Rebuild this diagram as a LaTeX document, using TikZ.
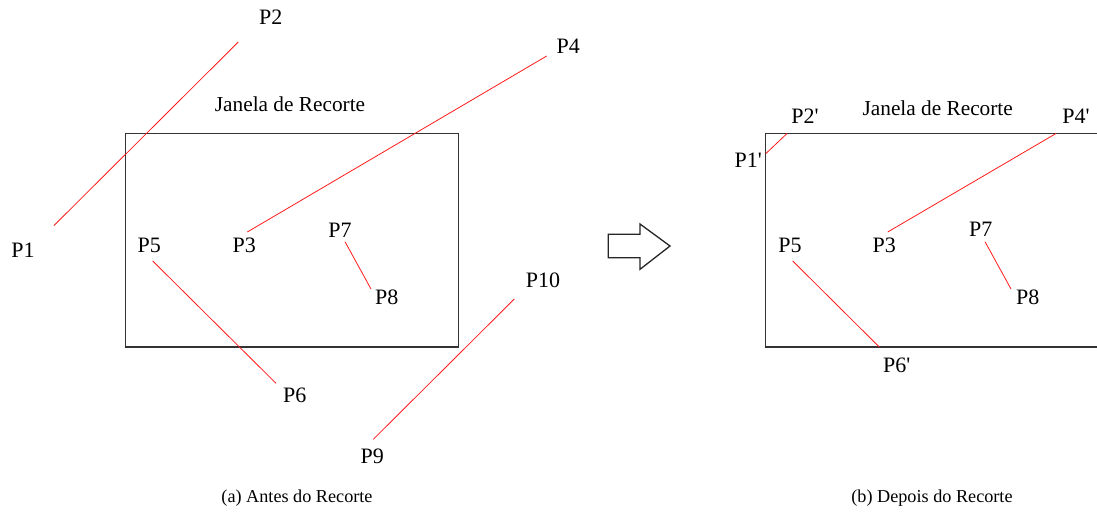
\documentclass[tikz,border=0pt]{standalone}
\usepackage{fontspec}
\setmainfont{Liberation Serif}
\newfontfamily\lblfont{Liberation Serif}
\begin{document}
\begin{tikzpicture}[x=1pt,y=-1pt,
  lbl/.style={inner sep=0pt,font=\lblfont\fontsize{22}{25}\selectfont},
  ttl/.style={inner sep=0pt,font=\lblfont\fontsize{21.3}{25}\selectfont},
  capt/.style={inner sep=0pt,font=\lblfont\fontsize{18.2}{22}\selectfont},
  win/.style={draw=black!80,line width=1.4pt},
  seg/.style={draw=red!90,line width=0.8pt},
  arr/.style={draw=black!85,line width=1.3pt,line join=miter}]
\useasboundingbox (0,0) rectangle (1097,515);
% ---------- (a) ----------
\draw[win] (125.5,133.5) rectangle (458.5,347);
\coordinate (p1) at (54,225.5);
\coordinate (p2) at (238.3,42);
\coordinate (p3) at (247.3,232);
\coordinate (p4) at (546.7,56);
\coordinate (p5) at (152.7,261);
\coordinate (p6) at (276,383.3);
\coordinate (p7) at (345,241.7);
\coordinate (p8) at (371,289);
\coordinate (p9) at (373.3,439.3);
\coordinate (p10) at (514.3,299);
\draw[seg] (p1) -- (p2);
\draw[seg] (p3) -- (p4);
\draw[seg] (p5) -- (p6);
\draw[seg] (p7) -- (p8);
\draw[seg] (p9) -- (p10);
\node[lbl] (l1) at (23,250.7) {P1};
\node[lbl] (l2) at (270.7,17.7) {P2};
\node[lbl] (l3) at (244.3,245.7) {P3};
\node[lbl] (l4) at (568.3,46.7) {P4};
\node[lbl] (l5) at (149.3,245) {P5};
\node[lbl] (l6) at (294.7,395) {P6};
\node[lbl] (l7) at (340,230) {P7};
\node[lbl] (l8) at (386.7,297.7) {P8};
\node[lbl] (l9) at (372.3,456) {P9};
\node[lbl] (l10) at (543,280.7) {P10};
\node[ttl] (ja) at (290,104.3) {Janela de Recorte};
\node[capt] (ca) at (297,498) {(a) Antes do Recorte};
% ---------- arrow ----------
\draw[arr] (608.3,234.3) -- (640,234.3) -- (640,224) -- (670,246) -- (640,269.3) -- (640,257.7) -- (608.3,257.7) -- cycle;
% ---------- (b) ----------
\draw[win] (1099,133.5) -- (765.7,133.5) -- (765.7,347) -- (1099,347);
\coordinate (q1) at (765.7,153.7);
\coordinate (q2) at (787,133.5);
\coordinate (q3) at (887.7,232);
\coordinate (q4) at (1056,133.5);
\coordinate (q5) at (792.7,261);
\coordinate (q6) at (879.3,347);
\coordinate (q7) at (985,241.7);
\coordinate (q8) at (1011,289);
\draw[seg] (q1) -- (q2);
\draw[seg] (q3) -- (q4);
\draw[seg] (q5) -- (q6);
\draw[seg] (q7) -- (q8);
\node[lbl] (m1) at (748.3,160) {P1'};
\node[lbl] (m2) at (805,116.7) {P2'};
\node[lbl] (m3) at (884.3,245.7) {P3};
\node[lbl] (m4) at (1076,116) {P4'};
\node[lbl] (m5) at (790,245) {P5};
\node[lbl] (m6) at (896.7,365.7) {P6'};
\node[lbl] (m7) at (980.7,229.3) {P7};
\node[lbl] (m8) at (1027.7,297.3) {P8};
\node[ttl] (jb) at (937.7,108.3) {Janela de Recorte};
\node[capt] (cb) at (932,498) {(b) Depois do Recorte};
\end{tikzpicture}
\end{document}
